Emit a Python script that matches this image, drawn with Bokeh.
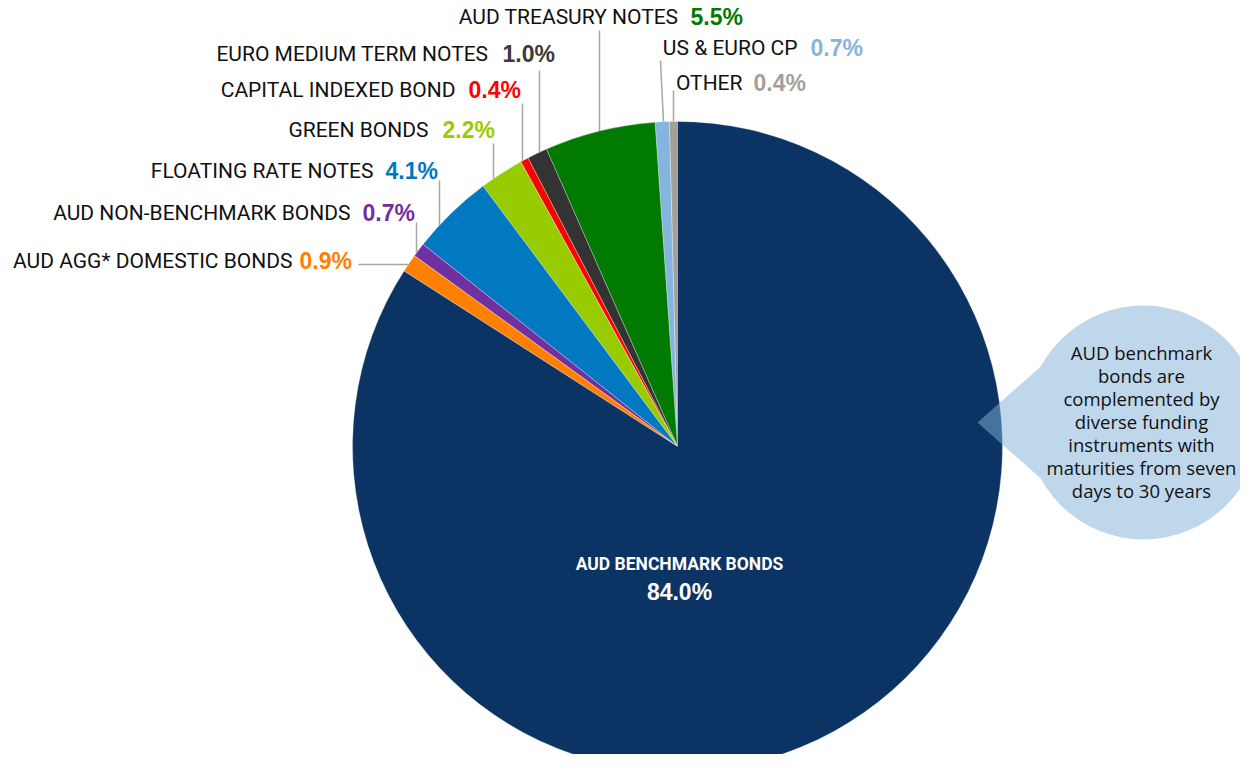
import math
from bokeh.plotting import figure
from bokeh.models import Range1d
from bokeh.embed import file_html
from bokeh.resources import INLINE
from bokeh.core.properties import value

# ---- data (counter-clockwise from 12 o'clock) ----
categories = ["OTHER", "US & EURO CP", "AUD TREASURY NOTES", "EURO MEDIUM TERM NOTES",
              "CAPITAL INDEXED BOND", "GREEN BONDS", "FLOATING RATE NOTES",
              "AUD NON-BENCHMARK BONDS", "AUD AGG* DOMESTIC BONDS", "AUD BENCHMARK BONDS"]
shares = [0.4, 0.7, 5.5, 1.0, 0.4, 2.2, 4.1, 0.7, 0.9, 84.0]
colors = ["#A59F9A", "#85B5DE", "#007A00", "#333333", "#FF0000", "#99CC00",
          "#0079C1", "#7030A0", "#FF8000", "#0B3363"]
pct_colors = ["#A59F9A", "#85B5DE", "#007A00", "#3A3A3A", "#FF0000", "#99CC00",
              "#0079C1", "#7030A0", "#FF8000", "#FFFFFF"]
callout_lines = ["AUD benchmark", "bonds are", "complemented by", "diverse funding",
                 "instruments with", "maturities from seven", "days to 30 years"]

# ---- layout ----
W, H = 1240, 754
p = figure(width=W, height=H, x_range=Range1d(0, W), y_range=Range1d(-H, 0),
           output_backend="svg", toolbar_location=None, min_border=0,
           x_axis_location=None, y_axis_location=None)
p.grid.visible = False
p.outline_line_color = None
p.background_fill_color = "white"
p.border_fill_color = "white"

CX, CY, R = 677, -446, 325
total = sum(shares)
starts, ends = [], []
acc = 0.0
for s in shares:
    starts.append(math.pi / 2 + acc / total * 2 * math.pi)
    acc += s
    ends.append(math.pi / 2 + acc / total * 2 * math.pi)

p.wedge(x=CX, y=CY, radius=R, start_angle=starts, end_angle=ends, direction="anticlock",
        fill_color=colors, line_color="white", line_width=0.6, line_alpha=0.5)

# pointer triangle (semi-transparent over the pie), then opaque bubble
p.patch(x=[977, 1056, 1056], y=[-422, -352, -492], fill_color="#7FB0D8", fill_alpha=0.51,
        line_color=None)
p.circle(x=[1143], y=[-422], radius=117, fill_color="#BED7EB", line_color=None)
p.text(x=[1141] * len(callout_lines), y=[-352 - 23 * i for i in range(len(callout_lines))],
       text=callout_lines, text_align="center", text_baseline="middle",
       text_font=value("Open Sans"), text_font_size="18.5px", text_color="#111111")

# small-slice labels: (name right x, pct left x, y center)
label_pos = {
    "OTHER": (742, 753, 82),
    "US & EURO CP": (797, 810, 47),
    "AUD TREASURY NOTES": (678, 690, 16),
    "EURO MEDIUM TERM NOTES": (488, 502, 53),
    "CAPITAL INDEXED BOND": (455, 468, 89),
    "GREEN BONDS": (428, 442, 129),
    "FLOATING RATE NOTES": (373, 385, 170),
    "AUD NON-BENCHMARK BONDS": (350, 362, 212),
    "AUD AGG* DOMESTIC BONDS": (292, 299, 260),
}
# leader lines: (x at label, y at label, x at pie edge)
leaders = {
    "OTHER": (673, 90, 673),
    "US & EURO CP": (660, 60, 663),
    "AUD TREASURY NOTES": (599, 30, 599),
    "EURO MEDIUM TERM NOTES": (539, 70, 539),
    "CAPITAL INDEXED BOND": (522, 103, 522),
    "GREEN BONDS": (493, 143, 493),
    "FLOATING RATE NOTES": (439, 180, 439),
    "AUD NON-BENCHMARK BONDS": (416, 222, 416),
}

xs0, ys0, xs1, ys1 = [], [], [], []
for k, (xa, ya, xb) in leaders.items():
    yb = -CY - math.sqrt(R ** 2 - (xb - CX) ** 2)
    xs0.append(xa); ys0.append(-ya); xs1.append(xb); ys1.append(-yb)
# horizontal leader for AUD AGG*
yh = 264
xh = CX - math.sqrt(R ** 2 - (yh + CY) ** 2)
xs0.append(358); ys0.append(-yh); xs1.append(xh); ys1.append(-yh)
p.segment(x0=xs0, y0=ys0, x1=xs1, y1=ys1, line_color="#A6A6A6", line_width=1.5)

names, nx, px, ly, pcts, pcols = [], [], [], [], [], []
for i, c in enumerate(categories):
    if c in label_pos:
        a, b, y = label_pos[c]
        names.append(c); nx.append(a); px.append(b); ly.append(-y)
        pcts.append(f"{shares[i]:.1f}%"); pcols.append(pct_colors[i])
p.text(x=nx, y=ly, text=names, text_align="right", text_baseline="middle",
       text_font=value("Roboto"), text_font_size="21px", text_color="#111111")
p.text(x=px, y=ly, text=pcts, text_align="left", text_baseline="middle",
       text_font=value("Liberation Sans"), text_font_style="bold", text_font_size="23px",
       text_color=pcols)

# big slice label
p.text(x=[679], y=[-563], text=[categories[-1]], text_align="center", text_baseline="middle",
       text_font=value("Roboto"), text_font_style="bold", text_font_size="17.5px",
       text_color="white")
p.text(x=[679], y=[-591], text=[f"{shares[-1]:.1f}%"], text_align="center", text_baseline="middle",
       text_font=value("Liberation Sans"), text_font_style="bold", text_font_size="23px",
       text_color="white")

open("out.html", "w").write(file_html(p, INLINE))
